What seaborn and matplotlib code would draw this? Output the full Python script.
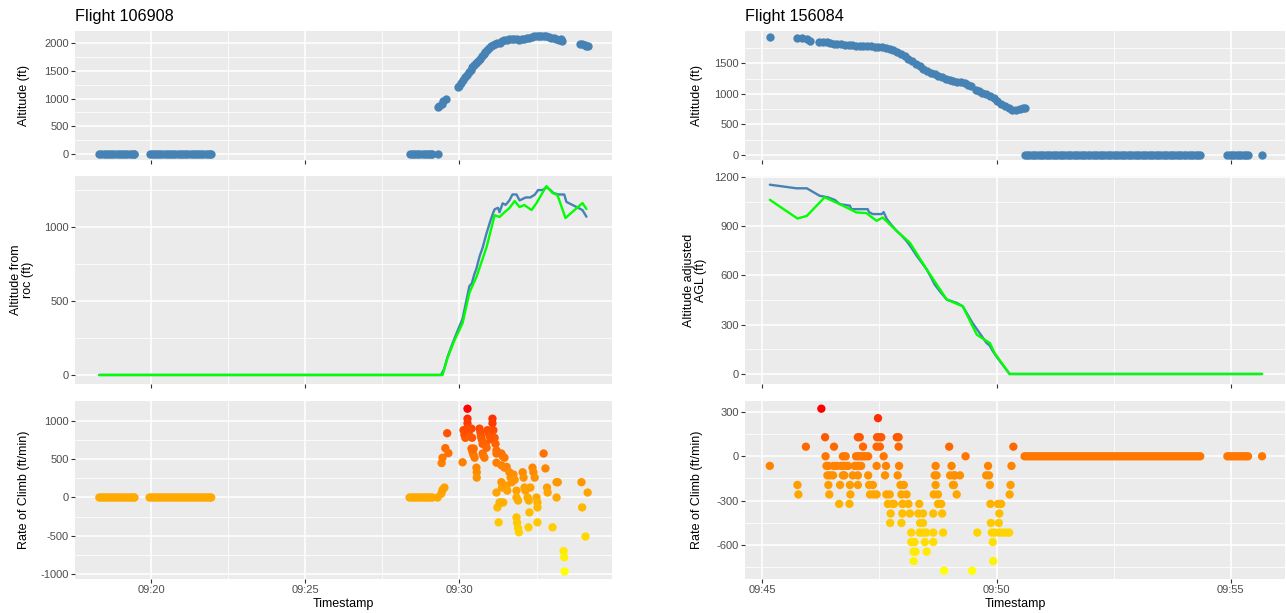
import numpy as np
import pandas as pd
import matplotlib
matplotlib.use("Agg")
import matplotlib.pyplot as plt
import seaborn as sns
from matplotlib.colors import ListedColormap, Normalize
from matplotlib.ticker import FixedLocator, FuncFormatter

# ---------------- data (time in minutes after 09:00) ----------------
# Flight 106908
L_title = "Flight 106908"
L_ground_t = [18.31, 18.38, 18.45, 18.52, 18.59, 18.66, 18.73, 18.80, 18.87, 18.94, 19.01, 19.08, 19.15,
              19.22, 19.29, 19.36, 19.42, 19.45,
              19.94, 20.01, 20.08, 20.15, 20.22, 20.29, 20.36, 20.43, 20.50, 20.57, 20.64, 20.71, 20.78,
              20.85, 20.92, 20.99, 21.06, 21.13, 21.20, 21.27, 21.34, 21.41, 21.48, 21.55, 21.62, 21.69,
              21.76, 21.83, 21.90, 21.94,
              28.38, 28.45, 28.52, 28.59, 28.66, 28.73, 28.80, 28.87, 28.94, 29.01, 29.08, 29.12, 29.29]
L_air_t = [29.29, 29.35, 29.42, 29.48, 29.55, 29.94, 30.00, 30.06, 30.12, 30.18, 30.24, 30.30, 30.36,
           30.42, 30.48, 30.54, 30.60, 30.66, 30.72, 30.78, 30.84, 30.90, 30.96, 31.02, 31.08, 31.14,
           31.22, 31.30, 31.38, 31.46, 31.54, 31.62, 31.70, 31.78, 31.86, 31.94, 32.02, 32.10, 32.18,
           32.26, 32.34, 32.42, 32.50, 32.58, 32.66, 32.74, 32.82, 32.90, 32.98, 33.06, 33.14, 33.22,
           33.30, 33.34, 33.90, 33.98, 34.06, 34.12, 34.16]
L_air_alt = [850, 860, 900, 950, 985, 1200, 1230, 1280, 1330, 1380, 1430, 1480, 1520,
             1560, 1600, 1640, 1680, 1720, 1760, 1800, 1840, 1880, 1920, 1950, 1970, 1990,
             2000, 2010, 2030, 2050, 2060, 2070, 2080, 2080, 2070, 2060, 2080, 2070, 2090,
             2100, 2110, 2120, 2120, 2130, 2135, 2130, 2120, 2110, 2100, 2090, 2080, 2060,
             2070, 2040, 1985, 1975, 1960, 1945, 1940]

L_roc_t = [29.41, 29.45, 29.51, 29.42, 29.45, 29.54, 29.64, 29.60, 30.10, 30.13, 30.16, 30.19,
           30.22, 30.26, 30.26, 30.26, 30.26, 30.30, 30.33, 30.39, 30.41, 30.39, 30.42, 30.45, 30.49,
           30.46, 30.55, 30.56, 30.56, 30.65, 30.68, 30.70, 30.72, 30.75, 30.75, 30.78, 30.81, 30.85,
           30.88, 30.91, 30.95, 30.98, 31.01, 31.05, 31.07, 31.07, 31.10, 31.14, 31.17, 31.20, 31.20,
           31.20, 31.20, 31.23, 31.27, 31.36, 31.40, 31.46, 31.36, 31.38, 31.30, 31.36, 31.42, 31.36,
           31.46, 31.53, 31.53, 31.55, 31.62, 31.66, 31.70, 31.75, 31.79, 31.85, 31.85, 31.90, 31.85,
           31.87, 31.90, 31.93, 32.05, 32.08, 32.11, 32.14, 32.21, 32.25, 32.27, 32.24, 32.30, 32.37,
           32.40, 32.44, 32.50, 32.53, 32.53, 32.53, 32.73, 32.79, 32.84, 32.86, 33.15, 33.19, 33.15,
           33.02, 33.38, 33.40, 33.41, 33.96, 34.16, 33.98, 34.09]
L_roc_v = [50, 100, 130, 450, 520, 645, 580, 840, 460, 880, 820, 780,
           850, 1160, 1030, 970, 900, 870, 800, 900, 780, 640, 600, 560, 520,
           640, 390, 330, 260, 900, 850, 800, 760, 700, 575, 540, 520, 700,
           650, 880, 840, 800, 760, 800, 1030, 970, 880, 780, 700, 615, 575,
           455, 65, -130, -325, 575, 540, 520, 200, 130, -65, -65, -65, 420,
           390, 400, 155, 90, 330, 260, 200, 300, 230, 90, 0, -40, -260,
           -330, -400, -455, 330, 260, 130, 90, 0, -40, -195, -390, 130, 390,
           330, 260, 0, -65, -130, -325, 575, 380, 130, 65, 200, 200, 0,
           -390, -700, -780, -965, 200, 65, -130, -510]

L_blue_t = [18.31, 29.40, 29.50, 29.61, 29.75, 29.90, 30.00, 30.10, 30.20, 30.28, 30.32, 30.40, 30.48,
            30.55, 30.65, 30.75, 30.88, 31.00, 31.10, 31.14, 31.25, 31.30, 31.40, 31.50, 31.62, 31.72,
            31.85, 31.95, 32.05, 32.15, 32.30, 32.45, 32.55, 32.70, 32.82, 32.95, 33.05, 33.20, 33.40,
            33.47, 33.99, 34.12]
L_blue_v = [0, 0, 40, 120, 200, 280, 330, 380, 480, 560, 600, 620, 680,
            720, 800, 860, 960, 1040, 1100, 1120, 1130, 1100, 1160, 1150, 1180, 1220,
            1220, 1180, 1190, 1200, 1200, 1220, 1250, 1250, 1270, 1250, 1230, 1220, 1220,
            1170, 1115, 1070]
L_green_t = [18.31, 29.45, 29.61, 29.85, 30.10, 30.32, 30.55, 30.88, 31.14, 31.30, 31.46, 31.62, 31.79,
             31.95, 32.10, 32.34, 32.50, 32.82, 33.02, 33.18, 33.44, 33.99, 34.12]
L_green_v = [0, 0, 115, 240, 350, 555, 662, 865, 1080, 1068, 1100, 1128, 1176,
             1135, 1149, 1115, 1162, 1277, 1230, 1216, 1061, 1162, 1122]

# Flight 156084
R_title = "Flight 156084"
R_air_t = [45.16, 45.73, 45.85, 45.95, 46.01, 46.22, 46.30, 46.38, 46.44, 46.52, 46.60, 46.68, 46.76,
           46.84, 46.92, 47.00, 47.08, 47.16, 47.24, 47.32, 47.40, 47.48, 47.56, 47.64, 47.72, 47.80,
           47.88, 47.96, 48.04, 48.12, 48.20, 48.28, 48.36, 48.44, 48.52, 48.60, 48.68, 48.76, 48.84,
           48.92, 49.00, 49.08, 49.16, 49.24, 49.32, 49.40, 49.46, 49.56, 49.62, 49.70, 49.78, 49.86,
           49.94, 50.02, 50.10, 50.18, 50.26, 50.34, 50.42, 50.50, 50.56, 50.60]
R_air_alt = [1925, 1905, 1905, 1895, 1870, 1850, 1845, 1840, 1828, 1820, 1815, 1810, 1800,
             1795, 1790, 1786, 1785, 1782, 1780, 1778, 1770, 1765, 1768, 1755, 1735, 1710,
             1680, 1650, 1615, 1575, 1530, 1490, 1450, 1410, 1375, 1345, 1320, 1295, 1270,
             1240, 1225, 1210, 1200, 1190, 1170, 1145, 1120, 1060, 1040, 1010, 990, 960,
             925, 880, 840, 800, 760, 740, 740, 745, 760, 775]
R_ground_t = [50.60, 50.65, 50.70, 50.75, 50.80, 50.85, 50.90, 50.95, 51.00, 51.05, 51.10, 51.15,
              51.20, 51.25, 51.30, 51.35, 51.40, 51.45, 51.50, 51.55, 51.60, 51.65, 51.70, 51.75,
              51.80, 51.85, 51.90, 51.95, 52.00, 52.05, 52.10, 52.15, 52.20, 52.25, 52.30, 52.35,
              52.40, 52.45, 52.50, 52.55, 52.60, 52.65, 52.70, 52.75, 52.80, 52.85, 52.90, 52.95,
              53.00, 53.05, 53.10, 53.15, 53.20, 53.25, 53.30, 53.35, 53.40, 53.45, 53.50, 53.55,
              53.60, 53.65, 53.70, 53.75, 53.80, 53.85, 53.90, 53.95, 54.00, 54.05, 54.10, 54.15,
              54.20, 54.25, 54.30, 54.35,
              54.93, 54.98, 55.03, 55.08, 55.13, 55.18, 55.23, 55.28, 55.33, 55.37, 55.67]

R_roc_t = [45.16, 45.75, 45.77, 45.93, 46.26, 46.34, 46.35, 46.37, 46.41, 46.39, 46.45, 46.51, 46.41,
           46.43, 46.53, 46.52, 46.59, 46.64, 46.66, 46.72, 46.78, 46.68, 46.75, 46.72, 46.75, 46.83,
           46.87, 46.86, 46.88, 47.04, 47.08, 47.00, 47.05, 47.10, 47.15, 47.20, 47.26, 47.15, 46.97,
           47.04, 47.11, 46.93, 47.04, 47.04, 47.26, 47.28, 47.36, 47.30, 47.38, 47.44, 47.45, 47.50,
           47.54, 47.47, 47.44, 47.51, 47.59, 47.44, 47.62, 47.64, 47.65, 47.72, 47.68, 47.78, 47.74,
           47.81, 47.73, 47.87, 47.91, 47.91, 47.92, 47.89, 47.95, 48.02, 47.97, 48.08, 48.00, 48.12,
           47.99, 47.99, 47.97, 48.15, 48.18, 48.18, 48.25, 48.23, 48.27, 48.23, 48.35, 48.33, 48.43,
           48.37, 48.43, 48.36, 48.43, 48.50, 48.65, 48.47, 48.65, 48.51, 48.65, 48.70, 48.68, 48.72,
           48.70, 48.66, 48.75, 48.75, 48.82, 48.84, 48.86, 48.88, 48.99, 49.04, 49.01, 49.09, 49.11,
           49.22, 49.09, 49.07, 49.15, 49.34, 49.48, 49.59, 49.82, 49.78, 49.84, 49.86, 49.87, 49.88,
           49.90, 49.92, 49.93, 50.03, 50.10, 50.06, 50.05, 49.96, 50.05, 50.13, 50.20, 50.27, 50.28,
           50.30, 50.32, 50.36]
R_roc_v = [-65, -194, -258, 65, 322, 129, 0, -65, -65, -129, -129, -129, -194,
           -258, 65, -65, -65, -322, -194, 0, 0, -65, -65, -129, -129, -65,
           -194, -322, -258, 129, 129, 0, 0, 0, 0, 0, 0, 65, -65,
           -65, -65, -129, -129, -194, -129, -194, -194, -258, -258, -258, 129, 129,
           129, 258, 65, 65, 0, -65, -129, -65, -258, -258, -322, -322, -387,
           -322, -451, 129, 129, 65, -65, -129, -194, -194, -258, -258, -322, -322,
           -322, -387, -451, -387, -516, -580, -580, -645, -645, -709, -322, -387, -387,
           -451, -451, -516, -516, -516, -516, -580, -580, -645, -387, -65, -129, -129,
           -194, -258, -258, -322, -322, -387, -516, -774, 65, -65, -129, -129, -129,
           -129, -194, -194, -258, 0, -774, -516, -65, -129, -129, -194, -322, -451,
           -516, -580, -709, -322, -322, -387, -451, -516, -516, -516, -516, -516, -258,
           -194, -65, 65]

R_blue_t = [45.16, 45.73, 45.95, 46.22, 46.40, 46.55, 46.65, 46.87, 46.90, 47.25, 47.28, 47.36, 47.55,
            47.59, 47.66, 47.75, 47.87, 47.95, 48.08, 48.18, 48.30, 48.40, 48.51, 48.60, 48.68, 48.80,
            48.94, 49.15, 49.28, 49.49, 49.79, 49.85, 49.92, 50.00, 50.28, 55.67]
R_blue_v = [1153, 1131, 1131, 1086, 1076, 1060, 1035, 1025, 1004, 1004, 985, 974, 974,
            986, 943, 910, 871, 850, 810, 770, 718, 680, 637, 590, 545, 500,
            453, 433, 412, 310, 188, 175, 140, 106, 0, 0]
R_green_t = [45.16, 45.75, 45.95, 46.33, 46.65, 47.01, 47.22, 47.44, 47.57, 47.87, 48.15, 48.51,
             48.94, 49.28, 49.58, 49.86, 49.96, 50.28, 55.67]
R_green_v = [1061, 947, 963, 1076, 1035, 984, 980, 933, 953, 871, 800, 637,
             453, 412, 239, 188, 127, 0, 0]

L_xticks = [20, 25, 30]
L_xlabels = ["09:20", "09:25", "09:30"]
R_xticks = [45, 50, 55]
R_xlabels = ["09:45", "09:50", "09:55"]
ylab_top = "Altitude (ft)"
ylab_mid_L = "Altitude from\nroc (ft)"
ylab_mid_R = "Altitude adjusted\nAGL (ft)"
ylab_bot = "Rate of Climb (ft/min)"
xlab = "Timestamp"

# ---------------- style ----------------
sns.set_theme(style="darkgrid")
plt.rcParams['font.family'] = ['Liberation Sans', 'DejaVu Sans']
plt.rcParams['axes.unicode_minus'] = False


def _lab(rgb):
    c = np.asarray(rgb, float)
    lin = np.where(c <= 0.04045, c / 12.92, ((c + 0.055) / 1.055) ** 2.4)
    M = np.array([[0.4124, 0.3576, 0.1805], [0.2126, 0.7152, 0.0722], [0.0193, 0.1192, 0.9505]])
    xyz = M @ lin / np.array([0.95047, 1.0, 1.08883])
    f = np.where(xyz > 0.008856, np.cbrt(xyz), 7.787 * xyz + 16 / 116)
    return np.array([116 * f[1] - 16, 500 * (f[0] - f[1]), 200 * (f[1] - f[2])])


def _rgb(lab):
    L, a, b = lab
    fy = (L + 16) / 116
    f = np.array([fy + a / 500, fy, fy - b / 200])
    xyz = np.where(f ** 3 > 0.008856, f ** 3, (f - 16 / 116) / 7.787) * np.array([0.95047, 1, 1.08883])
    Minv = np.array([[3.2406, -1.5372, -0.4986], [-0.9689, 1.8758, 0.0415], [0.0557, -0.2040, 1.0570]])
    lin = np.clip(Minv @ xyz, 0, 1)
    c = np.where(lin <= 0.0031308, 12.92 * lin, 1.055 * lin ** (1 / 2.4) - 0.055)
    return np.clip(c, 0, 1)


_lo, _hi = _lab((1, 1, 0)), _lab((1, 0, 0))
roc_cmap = ListedColormap([_rgb(_lo + (_hi - _lo) * t) for t in np.linspace(0, 1, 256)])

BLUE = "#4682B4"
GREEN = "#00FF00"
PT = 36
W, H = 1286, 613
fig = plt.figure(figsize=(W / 100, H / 100), dpi=100)
fig.patch.set_facecolor("white")


def add(l, t, r, b):
    return fig.add_axes([l / W, 1 - b / H, (r - l) / W, (b - t) / H])


def style(ax, xlim, ylim, ymaj, ymin, xmaj, xmin, xlabels, show_x):
    ax.set_facecolor("#EBEBEB")
    for s in ax.spines.values():
        s.set_visible(False)
    ax.set_xlim(xlim)
    ax.set_ylim(ylim)
    ax.xaxis.set_major_locator(FixedLocator(xmaj))
    ax.xaxis.set_minor_locator(FixedLocator(xmin))
    ax.yaxis.set_major_locator(FixedLocator(ymaj))
    ax.yaxis.set_minor_locator(FixedLocator(ymin))
    ax.yaxis.set_major_formatter(FuncFormatter(lambda v, p: f"{int(round(v))}"))
    if show_x:
        ax.xaxis.set_major_formatter(FuncFormatter(lambda v, p: xlabels[list(xmaj).index(v)] if v in xmaj else ""))
    ax.grid(which="major", color="white", lw=1.1)
    ax.grid(which="minor", color="white", lw=0.55)
    ax.set_axisbelow(True)
    ax.tick_params(which="major", length=2.75, width=0.8, color="#333333", labelsize=8,
                   labelcolor="#4D4D4D", pad=1.5, bottom=True, left=True,
                   labelbottom=show_x)
    ax.tick_params(which="minor", length=0)
    ax.set_xlabel("")
    ax.set_ylabel("")


def ylab(px, py, text):
    fig.text(px / W, 1 - py / H, text, rotation=90, ha="center", va="center", fontsize=9,
             color="black", linespacing=1.0)


rows = [(31, 160), (176, 384), (401, 579)]

for side in ["L", "R"]:
    if side == "L":
        l, r = 75, 612
        xlim = (17.52, 34.95)
        xmaj, xmin, xlabs = L_xticks, [17.5, 22.5, 27.5, 32.5], L_xlabels
        title = L_title
        alt_df = pd.DataFrame({"t": L_ground_t + L_air_t,
                               "alt": [0] * len(L_ground_t) + L_air_alt})
        roc_df = pd.DataFrame({"t": L_ground_t + L_roc_t,
                               "v": [0] * len(L_ground_t) + L_roc_v})
        blue_df = pd.DataFrame({"t": L_blue_t, "v": L_blue_v})
        green_df = pd.DataFrame({"t": L_green_t, "v": L_green_v})
        ylims = [(-109, 2218), (-61, 1345), (-1065, 1261)]
        ymajs = [[0, 500, 1000, 1500, 2000], [0, 500, 1000], [-1000, -500, 0, 500, 1000]]
        ymins = [[250, 750, 1250, 1750], [250, 750, 1250], [-750, -250, 250, 750]]
        ylabs = [ylab_top, ylab_mid_L, ylab_bot]
        ylx = [24, 22, 24]
    else:
        l, r = 745, 1285
        xlim = (44.63, 56.16)
        xmaj, xmin, xlabs = R_xticks, [47.5, 52.5], R_xlabels
        title = R_title
        alt_df = pd.DataFrame({"t": R_air_t + R_ground_t,
                               "alt": R_air_alt + [0] * len(R_ground_t)})
        roc_df = pd.DataFrame({"t": R_roc_t + R_ground_t,
                               "v": R_roc_v + [0] * len(R_ground_t)})
        blue_df = pd.DataFrame({"t": R_blue_t, "v": R_blue_v})
        green_df = pd.DataFrame({"t": R_green_t, "v": R_green_v})
        ylims = [(-82, 2027), (-61, 1206), (-830, 374)]
        ymajs = [[0, 500, 1000, 1500], [0, 300, 600, 900, 1200], [-600, -300, 0, 300]]
        ymins = [[250, 750, 1250, 1750], [150, 450, 750, 1050], [-750, -450, -150, 150]]
        ylabs = [ylab_top, ylab_mid_R, ylab_bot]
        ylx = [697, 695, 697]

    axes = [add(l, t, r, b) for (t, b) in rows]
    # top: altitude points
    sns.scatterplot(data=alt_df, x="t", y="alt", ax=axes[0], color=BLUE, s=PT, linewidth=0, legend=False)
    # middle: lines
    sns.lineplot(data=blue_df, x="t", y="v", ax=axes[1], color=BLUE, lw=1.7, sort=False, estimator=None)
    sns.lineplot(data=green_df, x="t", y="v", ax=axes[1], color=GREEN, lw=1.7, sort=False, estimator=None)
    # bottom: rate of climb
    norm = Normalize(vmin=roc_df["v"].min(), vmax=roc_df["v"].max())
    sns.scatterplot(data=roc_df, x="t", y="v", hue="v", palette=roc_cmap, hue_norm=norm, ax=axes[2],
                    s=PT, linewidth=0, legend=False)
    for i, ax in enumerate(axes):
        style(ax, xlim, ylims[i], ymajs[i], ymins[i], xmaj, xmin, xlabs, i == 2)
        ylab(ylx[i], (rows[i][0] + rows[i][1]) / 2, ylabs[i])
    fig.text(l / W, 1 - 16 / H, title, ha="left", va="center", fontsize=11.7, color="black")
    fig.text((l + r) / 2 / W, 1 - 604 / H, xlab, ha="center", va="center", fontsize=9, color="black")

fig.savefig("out.png", dpi=100, facecolor="white")
